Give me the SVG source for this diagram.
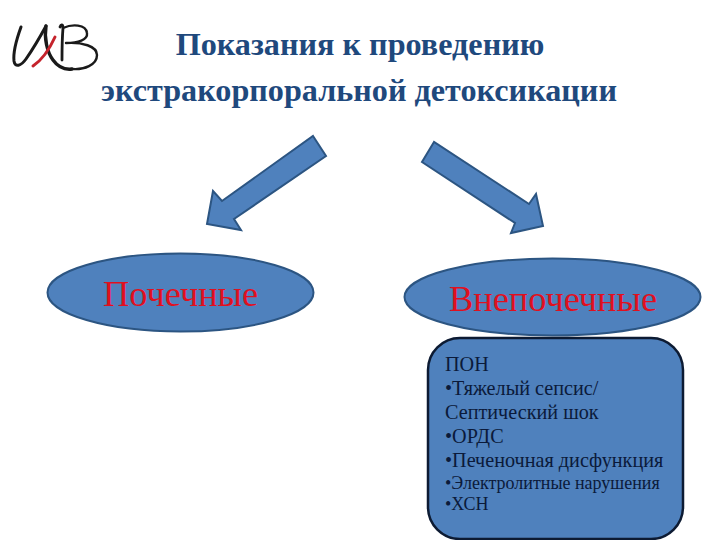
<svg xmlns="http://www.w3.org/2000/svg" width="720" height="540" viewBox="0 0 720 540">
<style>
text{font-family:"Liberation Serif","Times New Roman",serif}
.title{font-size:32.200px;font-weight:bold;fill:#1f497d;text-anchor:middle}
.shape{fill:#4f81bd;stroke:#2c5582;stroke-width:2}
.oval{font-size:36.300px;fill:#e0101f}
.item{font-size:20.200px;fill:#0b1a3a}
.small{font-size:18px}
.logo{fill:none;stroke:#1a1a1a;stroke-linecap:round;stroke-linejoin:round}
</style>
<rect width="720" height="540" fill="#fff"/>
<g id="logo">
<path class="logo" stroke-width="3" d="M21 27C17 38 13 52 14 61C15 68 21 66 26 59C33 49 40 37 46 26"/>
<path class="logo" stroke-width="3.400" d="M46 26C44 38 47 52 53 60C58 67 64 70 72 69"/>
<path class="logo" stroke-width="2.800" d="M60 27C61 24 63 24 63 28C62 40 62 50 62 60"/>
<path class="logo" stroke-width="2.400" d="M63 28C72 24 86 24 87 33C88 40 78 43 66 43C82 42 97 46 97 55C97 65 84 70 72 69"/>
<path fill="none" stroke="#c5232c" stroke-width="3" stroke-linecap="round" d="M33 66C42 60 50 48 55 37"/>
</g>
<g id="title">
<text class="title" x="360" y="55">Показания к проведению</text>
<text class="title" x="359" y="101">экстракорпоральной детоксикации</text>
</g>
<g id="connectors">
<path class="shape" d="M313 136L326 156L234 219L241 230L207 224L213 191L222 201Z"/>
<path class="shape" d="M434 142L422 162L515 223L511 233L543 226L536 194L529 204Z"/>
</g>
<g id="node-renal">
<ellipse class="shape" cx="180.500" cy="292.500" rx="133" ry="39"/>
<text class="oval" x="103" y="306">Почечные</text>
</g>
<g id="node-extrarenal">
<ellipse class="shape" cx="552.500" cy="297" rx="148" ry="38.500"/>
<text class="oval" x="449" y="311">Внепочечные</text>
</g>
<g id="node-list">
<rect x="428" y="338" width="255" height="201" rx="32" ry="32" fill="#4f81bd" stroke="#0d1b33" stroke-width="2.500"/>
<text class="item" x="445" y="371">ПОН</text>
<text class="item" x="445" y="395">•Тяжелый сепсис/</text>
<text class="item" x="445" y="419">Септический шок</text>
<text class="item" x="445" y="443">•ОРДС</text>
<text class="item" x="445" y="467">•Печеночная дисфункция</text>
<text class="item small" x="445" y="489">•Электролитные нарушения</text>
<text class="item small" x="445" y="510">•ХСН</text>
</g>
</svg>
